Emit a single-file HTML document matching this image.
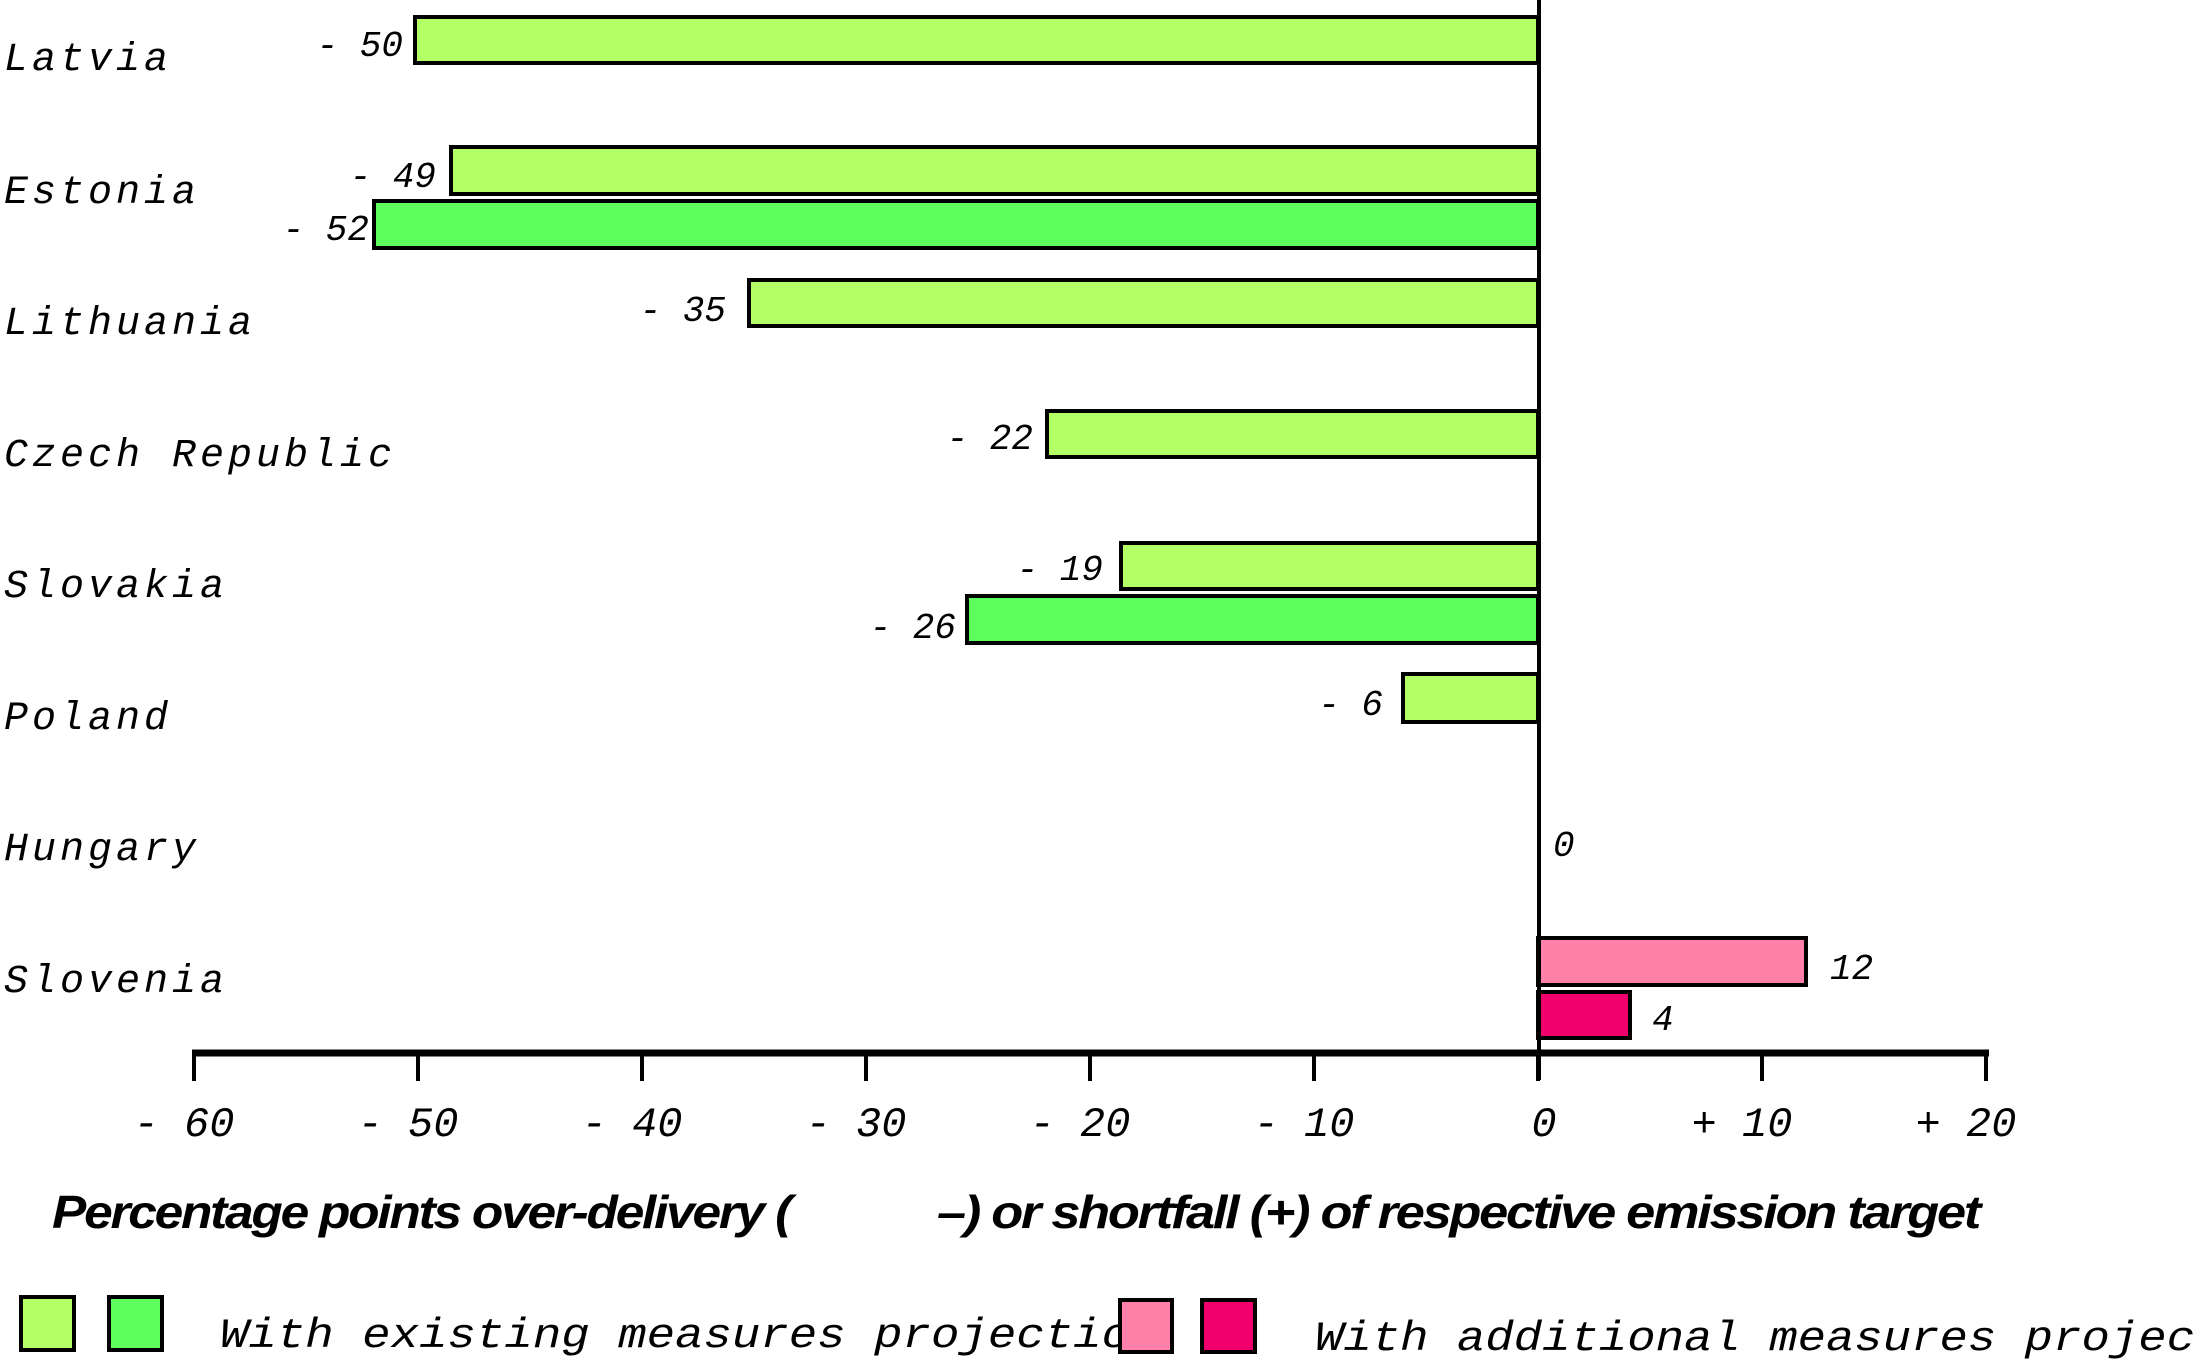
<!DOCTYPE html>
<html><head><meta charset="utf-8"><style>html,body{margin:0;padding:0;background:#fff}svg{display:block}</style></head>
<body>
<svg width="2193" height="1360" xmlns="http://www.w3.org/2000/svg">
<g stroke="#000" stroke-width="4">
<rect x="415" y="17" width="1123" height="46" fill="#b3ff66"/>
<rect x="451" y="147" width="1087" height="47" fill="#b3ff66"/>
<rect x="374" y="201" width="1164" height="47" fill="#5cff5c"/>
<rect x="749" y="280" width="789" height="46" fill="#b3ff66"/>
<rect x="1047" y="411" width="491" height="46" fill="#b3ff66"/>
<rect x="1121" y="543" width="417" height="46" fill="#b3ff66"/>
<rect x="967" y="596" width="571" height="47" fill="#5cff5c"/>
<rect x="1403" y="674" width="135" height="48" fill="#b3ff66"/>
<rect x="1538" y="938" width="268" height="47" fill="#ff80a8"/>
<rect x="1538" y="992" width="92" height="46" fill="#f0006c"/>
</g>
<line x1="1539" y1="0" x2="1539" y2="1080" stroke="#000" stroke-width="4"/>
<line x1="192" y1="1053" x2="1989" y2="1053" stroke="#000" stroke-width="7"/>
<g stroke="#000" stroke-width="4">
<line x1="194" y1="1053" x2="194" y2="1081"/><line x1="418" y1="1053" x2="418" y2="1081"/>
<line x1="642" y1="1053" x2="642" y2="1081"/><line x1="866" y1="1053" x2="866" y2="1081"/>
<line x1="1090" y1="1053" x2="1090" y2="1081"/><line x1="1314" y1="1053" x2="1314" y2="1081"/>
<line x1="1538" y1="1053" x2="1538" y2="1081"/><line x1="1762" y1="1053" x2="1762" y2="1081"/>
<line x1="1986" y1="1053" x2="1986" y2="1081"/>
</g>
<g font-family="Liberation Mono, monospace" font-style="italic" font-size="40" letter-spacing="4" fill="#000">
<text x="4" y="70">Latvia</text>
<text x="4" y="203">Estonia</text>
<text x="4" y="334">Lithuania</text>
<text x="4" y="466">Czech Republic</text>
<text x="4" y="597">Slovakia</text>
<text x="4" y="729">Poland</text>
<text x="4" y="860">Hungary</text>
<text x="4" y="992">Slovenia</text>
</g>
<g font-family="Liberation Mono, monospace" font-style="italic" font-size="36" fill="#000" text-anchor="end">
<text x="403" y="56">- 50</text>
<text x="436" y="187">- 49</text>
<text x="369" y="240">- 52</text>
<text x="726" y="321">- 35</text>
<text x="1033" y="449">- 22</text>
<text x="1103" y="580">- 19</text>
<text x="956" y="638">- 26</text>
<text x="1383" y="715">- 6</text>
</g>
<g font-family="Liberation Mono, monospace" font-style="italic" font-size="36" fill="#000">
<text x="1553" y="856">0</text>
<text x="1830" y="979">12</text>
<text x="1652" y="1030">4</text>
</g>
<g font-family="Liberation Mono, monospace" font-style="italic" font-size="42" fill="#000" text-anchor="middle">
<text x="184" y="1136">- 60</text><text x="408" y="1136">- 50</text><text x="632" y="1136">- 40</text>
<text x="856" y="1136">- 30</text><text x="1080" y="1136">- 20</text><text x="1304" y="1136">- 10</text>
<text x="1544" y="1136">0</text><text x="1742" y="1136">+ 10</text><text x="1966" y="1136">+ 20</text>
</g>
<g font-family="Liberation Sans, sans-serif" font-style="italic" font-weight="bold" font-size="46" fill="#000" letter-spacing="-2">
<text x="52" y="1228" textLength="738" lengthAdjust="spacingAndGlyphs">Percentage points over-delivery (</text>
<text x="937" y="1228" textLength="1042" lengthAdjust="spacingAndGlyphs">–) or shortfall (+) of respective emission target</text>
</g>
<g stroke="#000" stroke-width="4">
<rect x="21" y="1297" width="53" height="53" fill="#b3ff66"/>
<rect x="109" y="1297" width="53" height="53" fill="#5cff5c"/>
</g>
<text x="220" y="1347" font-family="Liberation Mono, monospace" font-style="italic" font-size="42" fill="#000" textLength="910" lengthAdjust="spacingAndGlyphs">With existing measures projectio</text>
<g stroke="#000" stroke-width="4">
<rect x="1120" y="1300" width="52" height="52" fill="#ff80a8"/>
<rect x="1202" y="1300" width="53" height="52" fill="#f0006c"/>
</g>
<text x="1315" y="1350" font-family="Liberation Mono, monospace" font-style="italic" font-size="42" fill="#000" textLength="880" lengthAdjust="spacingAndGlyphs">With additional measures projec</text>
</svg>
</body></html>
